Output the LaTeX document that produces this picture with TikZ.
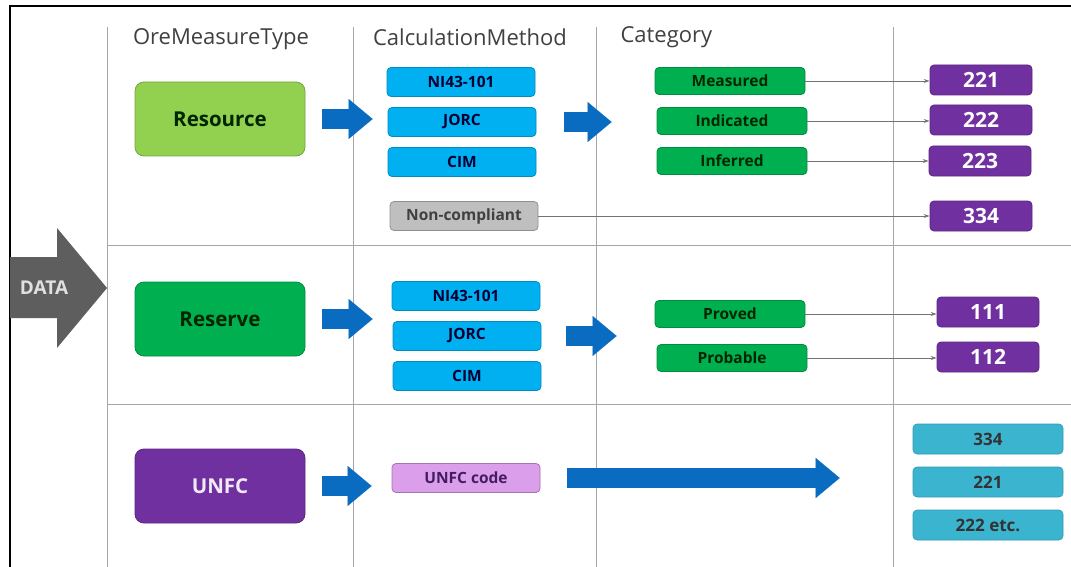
\documentclass[tikz,border=0pt]{standalone}
\usepackage{fontspec}
\setmainfont{Open Sans}
\usetikzlibrary{arrows.meta}
\definecolor{gridgray}{HTML}{A6A6A6}
\definecolor{headgray}{HTML}{404040}
\definecolor{resgreen}{HTML}{92D050}
\definecolor{catgreen}{HTML}{00B050}
\definecolor{unfcpurple}{HTML}{7030A0}
\definecolor{calcblue}{HTML}{00B0F0}
\definecolor{ncgray}{HTML}{BFBFBF}
\definecolor{codelilac}{HTML}{DA9EEA}
\definecolor{tealbox}{HTML}{3BB4D0}
\definecolor{arrowblue}{HTML}{0A6CC0}
\definecolor{datagray}{HTML}{5E5E5E}

\begin{document}
\begin{tikzpicture}[x=1pt,y=-1pt]
            \tikzset{lane/.style={draw=gridgray, line width=1pt},
                     colhead/.style={font=\fontsize{22}{24}\selectfont, text=headgray},
                     bigbox/.style={draw, line width=0.8pt, rounded corners=9pt, minimum width=170pt, minimum height=74pt, font=\fontsize{20.5}{23}\selectfont\bfseries},
                     calcbox/.style={draw=calcblue!80!black, fill=calcblue, text=black!80!blue, line width=0.8pt, rounded corners=4pt, minimum width=148pt, minimum height=29pt, inner sep=0pt, font=\fontsize{15.5}{18}\selectfont\bfseries},
                     catbox/.style={draw=catgreen!80!black, fill=catgreen, text=black!85!green, line width=0.8pt, rounded corners=4pt, minimum width=150pt, minimum height=27pt, inner sep=0pt, font=\fontsize{15.5}{18}\selectfont\bfseries},
                     codebox/.style={draw=unfcpurple!80!black, fill=unfcpurple, text=white, line width=0.8pt, rounded corners=4pt, minimum width=102pt, minimum height=30pt, inner sep=0pt, font=\fontsize{21}{23}\selectfont\bfseries},
                     tealcode/.style={draw=tealbox!85!black, fill=tealbox, text=black!80, line width=0.6pt, rounded corners=4pt, minimum width=150pt, minimum height=30pt, inner sep=0pt, font=\fontsize{17}{19}\selectfont\bfseries},
                     blockarr/.style={draw=arrowblue, line width=20pt, -{Triangle[length=24pt, width=40pt, line width=0.1pt]}},
                     thinarr/.style={draw=black!55, line width=0.8pt, -{Stealth[length=6pt, width=4pt]}}}
            \useasboundingbox (0,0) rectangle (1071,567);
            % frame and lanes
            \draw[line width=2pt] (10,567) |- (1071,6);
            \foreach \x in {107,353,596,893} \draw[lane] (\x,27) -- (\x,567);
            \foreach \y in {245,404} \draw[lane] (107,\y) -- (1071,\y);
            % data arrow
            \fill[datagray] (10,257) -- (57,257) -- (57,228) -- (107,288) -- (57,348) -- (57,318) -- (10,318) -- cycle;
            \node[text=white!88!black, font=\fontsize{19}{21}\selectfont\bfseries] (data) at (44,288) {DATA};
            % headers
            \node[colhead] (omt) at (221,39) {OreMeasureType};
            \node[colhead] (cm) at (470,37) {CalculationMethod};
            \node[colhead, anchor=west] (cat) at (617,37) {Category};
            % OreMeasureType
            \node[bigbox, draw=resgreen!80!black, fill=resgreen, text=black!85!green] (res) at (220,119) {Resource};
            \node[bigbox, draw=catgreen!80!black, fill=catgreen, text=black!85!green] (rsv) at (220,319) {Reserve};
            \node[bigbox, draw=unfcpurple!80!black, fill=unfcpurple, text=white!90!unfcpurple] (unfc) at (220,486) {UNFC};
            % CalculationMethod
            \node[calcbox] (nia) at (461,82) {NI43-101};
            \node[calcbox] (jorca) at (462,122) {JORC};
            \node[calcbox] (cima) at (462,162) {CIM};
            \node[calcbox, draw=ncgray!75!black, fill=ncgray, text=black!75] (ncomp) at (464,216) {Non-compliant};
            \node[calcbox] (nib) at (466,296) {NI43-101};
            \node[calcbox] (jorcb) at (467,336) {JORC};
            \node[calcbox] (cimb) at (467,376) {CIM};
            \node[calcbox, draw=codelilac!75!black, fill=codelilac, text=unfcpurple!60!black] (ucode) at (466,478) {UNFC code};
            % Category
            \node[catbox] (meas) at (730,81) {Measured};
            \node[catbox] (ind) at (732,121) {Indicated};
            \node[catbox] (inf) at (732,161) {Inferred};
            \node[catbox] (prov) at (730,314) {Proved};
            \node[catbox] (prob) at (732,358) {Probable};
            % codes
            \node[codebox] (c221) at (981,80) {221};
            \node[codebox] (c222) at (981,120) {222};
            \node[codebox] (c223) at (980,161) {223};
            \node[codebox] (c334) at (981,216) {334};
            \node[codebox] (c111) at (988,312) {111};
            \node[codebox] (c112) at (988,357) {112};
            \node[tealcode] (t334) at (988,439) {334};
            \node[tealcode] (t221) at (988,482) {221};
            \node[tealcode] (t222) at (988,525) {222 etc.};
            % block arrows
            \draw[blockarr, shorten <=17pt, shorten >=15pt] (res.east) -- (res.east -| jorca.west);
            \draw[blockarr, shorten <=28pt, shorten >=45pt] (jorca.east) -- (jorca.east -| ind.west);
            \draw[blockarr, shorten <=17pt, shorten >=20pt] (rsv.east) -- (rsv.east -| jorcb.west);
            \draw[blockarr, shorten <=25pt, shorten >=38pt] (jorcb.east) -- (jorcb.east -| prov.west);
            \draw[blockarr, shorten <=17pt, shorten >=20pt] (unfc.east) -- (unfc.east -| ucode.west);
            \draw[blockarr, shorten <=27pt, shorten >=73pt] (ucode.east) -- (ucode.east -| t221.west);
            % thin links
            \draw[thinarr] (meas.east) -- (meas.east -| c221.west);
            \draw[thinarr] (ind.east) -- (ind.east -| c222.west);
            \draw[thinarr] (inf.east) -- (inf.east -| c223.west);
            \draw[thinarr] (ncomp.east) -- (ncomp.east -| c334.west);
            \draw[thinarr] (prov.east) -- (prov.east -| c111.west);
            \draw[thinarr] (prob.east) -- (prob.east -| c112.west);
\end{tikzpicture}
\end{document}
